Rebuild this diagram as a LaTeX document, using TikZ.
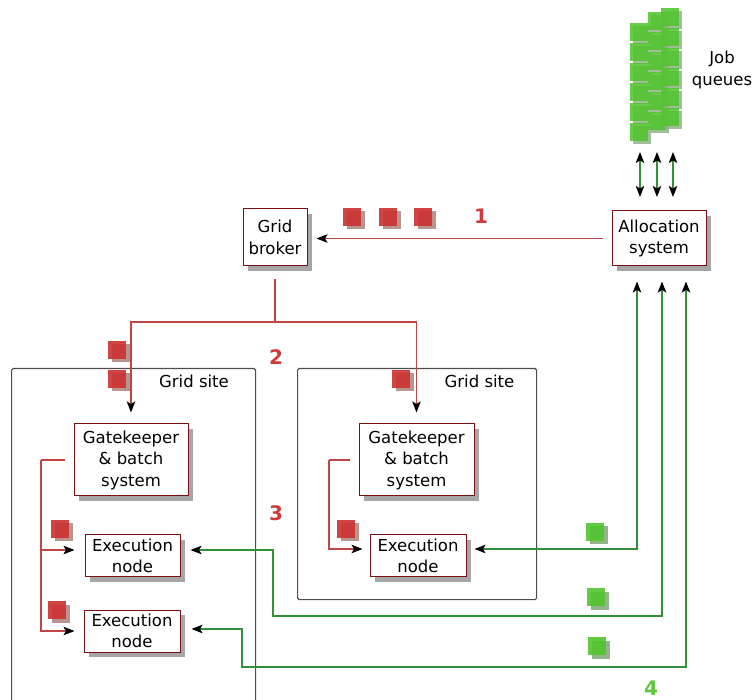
\documentclass[tikz,border=0pt]{standalone}
\usepackage{fontspec}
\setmainfont{DejaVu Sans}
\usetikzlibrary{arrows.meta,shadows}

\definecolor{boxred}{HTML}{7A1010}
\definecolor{linered}{HTML}{C24545}
\definecolor{sqred}{HTML}{CC3030}
\definecolor{sqredshadow}{HTML}{B08A82}
\definecolor{sqgreen}{HTML}{52C52E}
\definecolor{sqgreenshadow}{HTML}{8AAC80}
\definecolor{linegreen}{HTML}{33903A}
\definecolor{numred}{HTML}{D03A3A}
\definecolor{numgreen}{HTML}{5CC83A}

\tikzset{
  txt/.style={font=\fontsize{16.5}{21.5}\selectfont, align=center},
  unit/.style={txt, draw=boxred, line width=1pt, fill=white, inner sep=0pt,
    drop shadow={shadow xshift=5pt, shadow yshift=-5pt, fill=black!35, opacity=1}},
  site/.style={draw=black!70, line width=1.1pt, rounded corners=1.5pt, inner sep=0pt},
  redflow/.style={draw=linered, line width=1.1pt},
  greenflow/.style={draw=linegreen, line width=1.1pt},
  headend/.style={-{Stealth[black, length=11pt, width=8.5pt, inset=2.5pt]}},
  twoheads/.style={{Stealth[black, length=11pt, width=8.5pt, inset=2.5pt]}-{Stealth[black, length=11pt, width=8.5pt, inset=2.5pt]}},
  number/.style={font=\fontsize{20}{24}\selectfont\bfseries, inner sep=0pt},
  redtoken/.pic={
    \fill[sqredshadow, opacity=.9] (3.5,3.5) rectangle ++(18,18);
    \fill[sqred, opacity=.9] (0,0) rectangle ++(18,18);
  },
  greentoken/.pic={
    \fill[sqgreenshadow, opacity=.9] (3.5,3.5) rectangle ++(18,18);
    \fill[sqgreen, opacity=.9] (0,0) rectangle ++(18,18);
  },
}

\begin{document}
\begin{tikzpicture}[x=1pt, y=-1pt]
\clip (0,0) rectangle (753,700);

% job queues: three stacked columns of jobs
\foreach \qx/\qy in {630/23, 648/12, 661/8}{
  \foreach \k in {0,...,5}{
    \fill[sqgreenshadow, opacity=.8] (\qx+3,\qy+20*\k+3) rectangle ++(18,18);
    \fill[sqgreen, opacity=.88] (\qx,\qy+20*\k) rectangle ++(18,18);
  }
}
\node[txt] (jobq) at (722,70) {Job\\queues};

% grid sites
\node[site, minimum width=244pt, minimum height=360pt, anchor=north west] (siteA) at (11,368) {};
\node[site, minimum width=239pt, minimum height=231pt, anchor=north west] (siteB) at (297,368) {};
\node[txt] (siteAlabel) at (194,381) {Grid site};
\node[txt] (siteBlabel) at (479.5,381) {Grid site};

% components
\node[unit, minimum width=64pt, minimum height=57pt] (broker) at (275,237.5) {Grid\\broker};
\node[unit, minimum width=94pt, minimum height=55pt] (alloc) at (659,238.5) {Allocation\\system};
\node[unit, minimum width=114pt, minimum height=72pt] (gkA) at (131,460) {Gatekeeper\\\& batch\\system};
\node[unit, minimum width=115pt, minimum height=72pt] (gkB) at (416.5,460) {Gatekeeper\\\& batch\\system};
\node[unit, minimum width=95pt, minimum height=42pt] (exA) at (132.5,556) {Execution\\node};
\node[unit, minimum width=96pt, minimum height=42pt] (exC) at (132,631) {Execution\\node};
\node[unit, minimum width=96pt, minimum height=42pt] (exB) at (418,556) {Execution\\node};

% queue <-> allocation links
\foreach \i/\qx in {1/640, 2/657, 3/673}{
  \coordinate (qtop\i) at (\qx,152);
  \coordinate (qbot\i) at (\qx,197);
  \draw[greenflow, twoheads] (qtop\i) -- (qbot\i);
}

% step 1: allocation -> broker
\draw[redflow, headend, shorten <=9pt, shorten >=9pt] (alloc.west) -- (alloc.west -| broker.east);

% step 2: broker -> gatekeepers
\coordinate (split) at (275,322);
\draw[redflow, shorten <=13pt] (broker.south) -- (split);
\draw[redflow, headend, shorten >=11pt] (split) -| (gkA.north);
\draw[redflow, headend, shorten >=11pt] (split) -| (gkB.north);

% step 3: gatekeepers -> execution nodes
\coordinate (busA) at (41,460);
\coordinate (exAin) at ([yshift=6pt]exA.west);
\draw[redflow, shorten <=9pt] (gkA.west) -- (busA);
\draw[redflow, headend, shorten >=9pt] (busA) |- (exC.west);
\draw[redflow, headend, shorten >=10pt] (busA |- exAin) -- (exAin);

\coordinate (busB) at (329,460);
\coordinate (exBin) at ([yshift=7pt]exB.west);
\draw[redflow, shorten <=9pt] (gkB.west) -- (busB);
\draw[redflow, headend, shorten >=7pt] (busB) |- (exBin);

% step 4: execution nodes <-> allocation system
\coordinate (allocA) at ([xshift=-22pt]alloc.south);
\coordinate (allocB) at ([xshift=3pt]alloc.south);
\coordinate (allocC) at ([xshift=27pt]alloc.south);
\coordinate (exBout) at ([yshift=7pt]exB.east);
\coordinate (exAout) at ([yshift=6pt]exA.east);
\coordinate (exCout) at ([yshift=2pt]exC.east);
\coordinate (routeA) at (273,616);
\coordinate (routeC) at (242,667);
\draw[greenflow, twoheads, shorten <=8pt, shorten >=15pt] (exBout) -| (allocA);
\draw[greenflow, twoheads, shorten <=10pt, shorten >=15pt] (exAout) -| (routeA) -| (allocB);
\draw[greenflow, twoheads, shorten <=11pt, shorten >=15pt] (exCout) -| (routeC) -| (allocC);

% jobs in transit
\foreach \tx/\ty in {343/208, 379/208, 414/208, 108/341, 108/370, 392/370, 51/520, 48/601, 337/520}
  \pic at (\tx,\ty) {redtoken};
\foreach \tx/\ty in {586/523, 587/588, 588/637}
  \pic at (\tx,\ty) {greentoken};

% step numbers
\node[number, text=numred] (n1) at (481,216.5) {1};
\node[number, text=numred] (n2) at (276,357) {2};
\node[number, text=numred] (n3) at (276,513) {3};
\node[number, text=numgreen] (n4) at (651,688) {4};
\end{tikzpicture}
\end{document}
